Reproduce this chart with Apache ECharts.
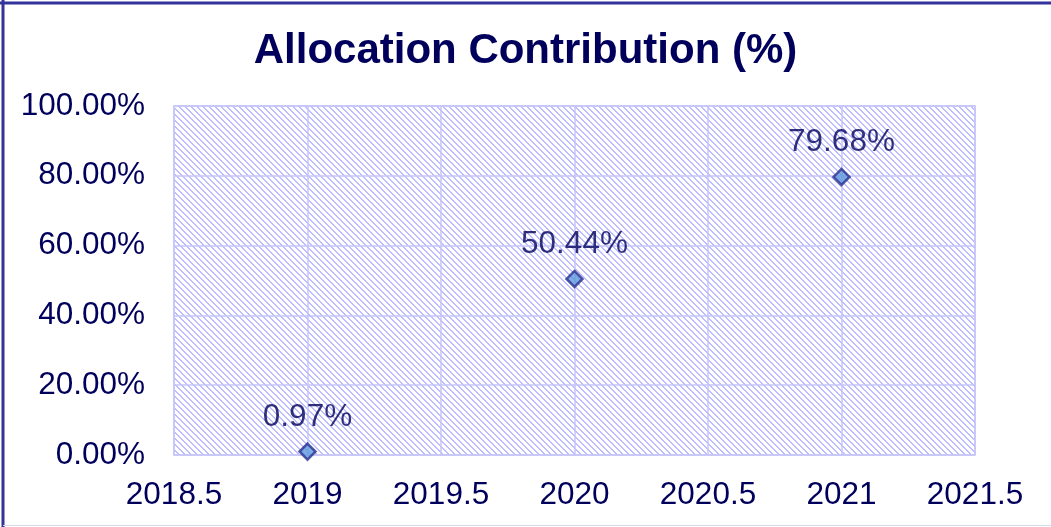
<!DOCTYPE html>
<html>
<head>
<meta charset="utf-8">
<script src="https://cdn.jsdelivr.net/npm/echarts@6/dist/echarts.min.js"></script>
<style>
  html, body { margin: 0; padding: 0; background: #fff; }
  #main { width: 1051px; height: 527px; }
</style>
</head>
<body>
<div id="main"></div>
<script>
// data
var years = [2019, 2020, 2021];
var contribution = [0.97, 50.44, 79.68];
var yTicks = [0, 20, 40, 60, 80, 100];

var navy = '#00005c';
var gridColor = '#c4c4fb';

// diagonal hatch for the plot background
var hatch = document.createElement('canvas');
hatch.width = 6;
hatch.height = 6;
var hctx = hatch.getContext('2d');
hctx.fillStyle = '#ffffff';
hctx.fillRect(0, 0, 6, 6);
hctx.fillStyle = '#bdbdff';
for (var i = 0; i < 6; i++) {
    hctx.fillRect(i, i, 1, 1);
    hctx.fillRect((i + 1) % 6, i, 1, 1);
}

var points = years.map(function (y, i) { return [y, contribution[i]]; });

var chart = echarts.init(document.getElementById('main'));
var option = {
    backgroundColor: '#fff',
    animation: false,
    title: {
        text: 'Allocation Contribution (%)',
        left: 'center',
        top: 25,
        textStyle: {
            color: navy,
            fontSize: 42,
            fontWeight: 'bold',
            fontFamily: 'Liberation Sans, Arial, sans-serif'
        }
    },
    grid: {
        left: 174,
        top: 106,
        width: 801,
        height: 349,
        show: true,
        backgroundColor: { image: hatch, repeat: 'repeat' },
        borderColor: gridColor,
        borderWidth: 1.5
    },
    xAxis: {
        type: 'value',
        min: 2018.5,
        max: 2021.5,
        interval: 0.5,
        axisLine: { show: false },
        axisTick: { show: false },
        splitLine: { show: true, lineStyle: { color: gridColor, width: 1.5 } },
        axisLabel: {
            color: navy,
            fontSize: 31.5,
            fontFamily: 'Liberation Sans, Arial, sans-serif',
            margin: 24,
            showMinLabel: true,
            showMaxLabel: true,
            formatter: function (v) { return String(v); }
        }
    },
    yAxis: {
        type: 'value',
        min: yTicks[0],
        max: yTicks[yTicks.length - 1],
        interval: 20,
        axisLine: { show: false },
        axisTick: { show: false },
        splitLine: { show: true, lineStyle: { color: gridColor, width: 1.5 } },
        axisLabel: {
            color: navy,
            fontSize: 31.5,
            fontFamily: 'Liberation Sans, Arial, sans-serif',
            margin: 29,
            formatter: function (v) { return v.toFixed(2) + '%'; }
        }
    },
    graphic: [
        { type: 'line', shape: { x1: 3, y1: 0, x2: 3, y2: 527 }, style: { stroke: '#33339a', lineWidth: 3 } },
        { type: 'line', shape: { x1: 0, y1: 3, x2: 1051, y2: 3 }, style: { stroke: '#33339a', lineWidth: 3 } },
        { type: 'line', shape: { x1: 3, y1: 525.5, x2: 1051, y2: 525.5 }, style: { stroke: '#d9d9e6', lineWidth: 1 } }
    ],
    series: [{
        type: 'scatter',
        data: points,
        symbol: 'diamond',
        symbolSize: 16,
        itemStyle: {
            color: '#5f98dc',
            borderColor: '#2b2f8f',
            borderWidth: 2.5
        },
        label: {
            show: true,
            position: 'top',
            distance: 9,
            color: navy,
            fontSize: 31.5,
            fontFamily: 'Liberation Sans, Arial, sans-serif',
            formatter: function (p) { return p.value[1].toFixed(2) + '%'; }
        }
    }]
};
chart.setOption(option);
</script>
</body>
</html>
